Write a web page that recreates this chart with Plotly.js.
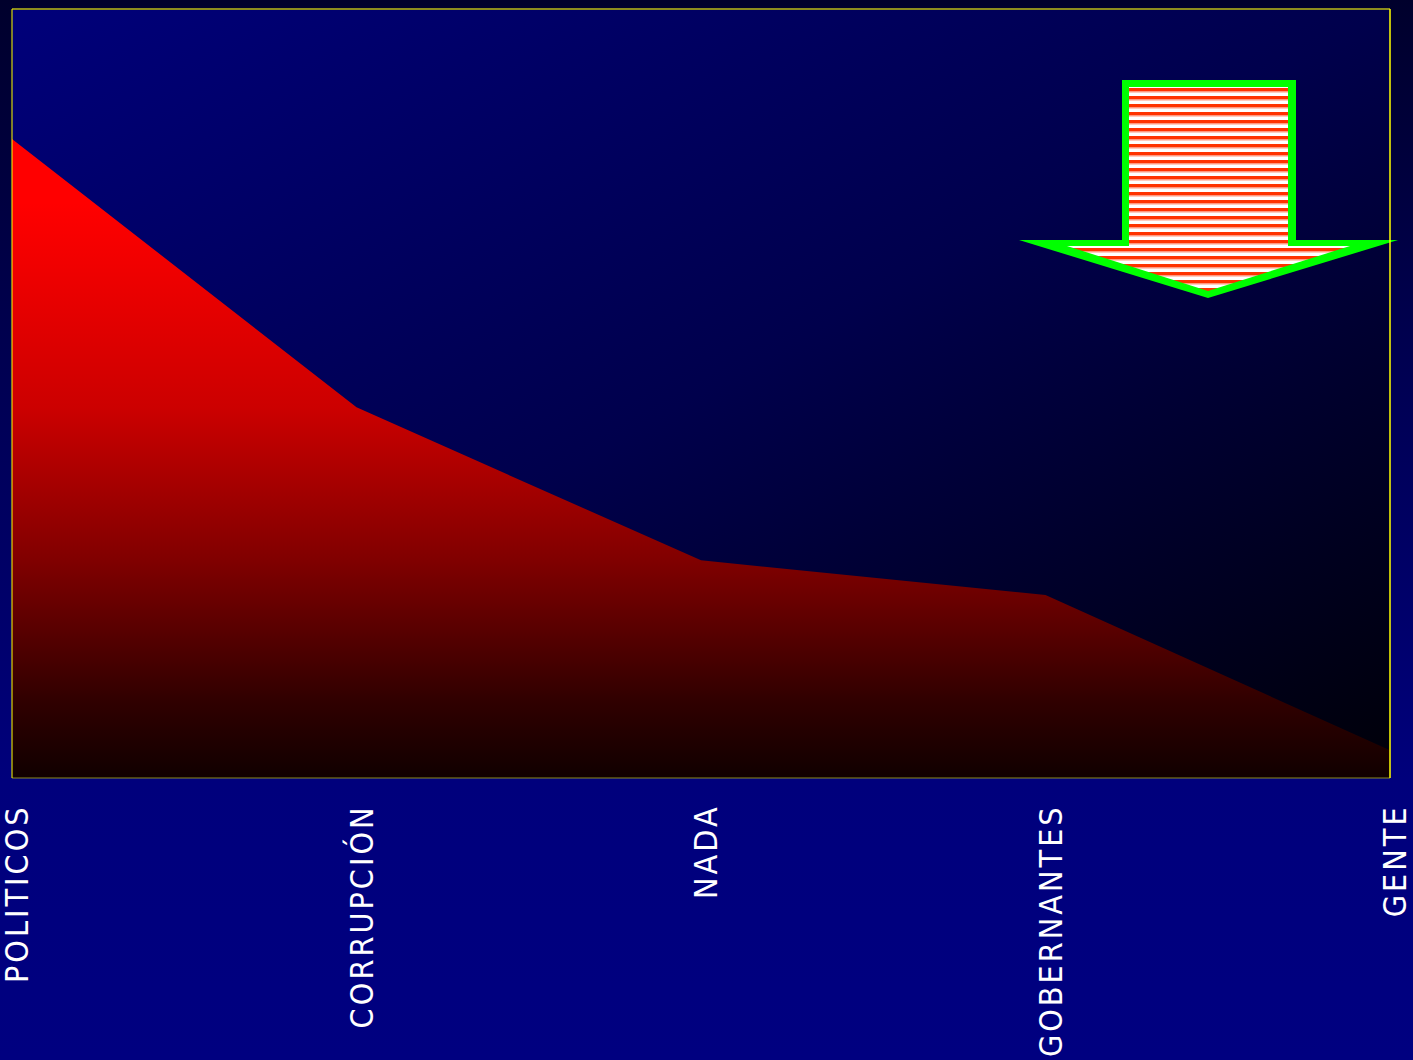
<!DOCTYPE html>
<html>
<head>
<meta charset="utf-8">
<script src="https://cdn.plot.ly/plotly-3.0.1.min.js"></script>
<style>
  html, body { margin: 0; padding: 0; width: 1413px; height: 1060px; overflow: hidden;
    background: linear-gradient(to bottom, #00002c 0px, #00007c 780px, #000080 1060px); }
  #chart { width: 1413px; height: 1060px; }
  .xtick text { letter-spacing: 3px; translate: 6px 0px; }
</style>
</head>
<body>
<div id="chart"></div>
<script>
// ---- data ----
var categories = ["POLITICOS", "CORRUPCIÓN", "NADA", "GOBERNANTES", "GENTE"];
var values = [83.1, 48.2, 28.3, 23.8, 3.6];
var yRange = [0, 100];

// ---- decorative images (SVG) ----
var W = 1413, H = 1060;
var plotL = 12, plotR = 1390, plotT = 9, plotB = 778;
var pw = plotR - plotL, ph = plotB - plotT;

var bgSvg = '<svg xmlns="http://www.w3.org/2000/svg" width="100" height="100" viewBox="0 0 100 100" preserveAspectRatio="none">' +
  '<defs><linearGradient id="g" x1="0" y1="0" x2="1" y2="1">' +
  '<stop offset="0" stop-color="#00007a"/><stop offset="0.5" stop-color="#00004c"/><stop offset="1" stop-color="#000008"/>' +
  '</linearGradient></defs><rect width="100" height="100" fill="url(#g)"/></svg>';

var arrowSvg = '<svg xmlns="http://www.w3.org/2000/svg" width="' + W + '" height="' + H + '" viewBox="0 0 ' + W + ' ' + H + '" preserveAspectRatio="none">' +
  '<defs><pattern id="s" width="8" height="8" patternUnits="userSpaceOnUse">' +
  '<rect width="8" height="8" fill="#ffffff"/><rect y="0" width="8" height="3.5" fill="#ff3300"/>' +
  '<rect y="3.5" width="8" height="1" fill="#ff9a80"/></pattern></defs>' +
  '<polygon points="1122,80 1296,80 1296,240 1398,240 1208,298 1019,240 1122,240" fill="#00ff00"/>' +
  '<polygon points="1129,87 1288,87 1288,246 1350,246 1208,291 1067,246 1129,246" fill="url(#s)"/>' +
  '</svg>';

function uri(s) { return 'data:image/svg+xml;charset=utf-8,' + encodeURIComponent(s); }

var trace = {
  type: 'scatter',
  x: categories,
  y: values,
  mode: 'lines',
  line: { width: 0, color: 'rgba(0,0,0,0)' },
  fill: 'tozeroy',
  fillgradient: {
    type: 'vertical',
    colorscale: [[0, '#100000'], [0.12, '#300000'], [0.34, '#800000'], [0.58, '#cc0000'],
                 [0.8, '#f00000'], [0.9, '#ff0000'], [1, '#ff0000']]
  },
  hoverinfo: 'skip',
  showlegend: false
};

var layout = {
  width: W, height: H,
  margin: { l: plotL, r: W - plotR, t: plotT, b: H - plotB, pad: 0 },
  paper_bgcolor: 'rgba(0,0,0,0)',
  plot_bgcolor: 'rgba(0,0,0,0)',
  showlegend: false,
  xaxis: {
    type: 'category',
    range: [0, categories.length - 1],
    showgrid: false, zeroline: false, showline: false,
    ticks: '',
    tickangle: -90,
    ticklabelstandoff: 19,
    tickfont: { family: '"Liberation Sans Narrow", "DejaVu Sans Condensed", "Liberation Sans", sans-serif', size: 32, color: '#ffffff' },
    fixedrange: true
  },
  yaxis: {
    range: yRange,
    visible: false,
    showgrid: false, zeroline: false,
    fixedrange: true
  },
  images: [
    { source: uri(bgSvg), xref: 'paper', yref: 'paper', x: 0, y: 1, sizex: 1, sizey: 1,
      xanchor: 'left', yanchor: 'top', sizing: 'stretch', layer: 'below' },
    { source: uri(arrowSvg), xref: 'paper', yref: 'paper',
      x: -plotL / pw, y: 1 + plotT / ph, sizex: W / pw, sizey: H / ph,
      xanchor: 'left', yanchor: 'top', sizing: 'stretch', layer: 'above' }
  ],
  shapes: [
    { type: 'line', xref: 'paper', yref: 'paper', x0: 0, x1: 1, y0: 1, y1: 1, line: { color: '#8c8c1e', width: 2 } },
    { type: 'line', xref: 'paper', yref: 'paper', x0: 0, x1: 1, y0: 0, y1: 0, line: { color: '#8c8c1e', width: 1 } },
    { type: 'line', xref: 'paper', yref: 'paper', x0: 0, x1: 0, y0: 0, y1: 1, line: { color: '#ffff00', width: 1 } },
    { type: 'line', xref: 'paper', yref: 'paper', x0: 1, x1: 1, y0: 0, y1: 1, line: { color: '#ffff00', width: 1.5 } }
  ]
};

Plotly.newPlot('chart', [trace], layout, { displayModeBar: false, staticPlot: true });
</script>
</body>
</html>
